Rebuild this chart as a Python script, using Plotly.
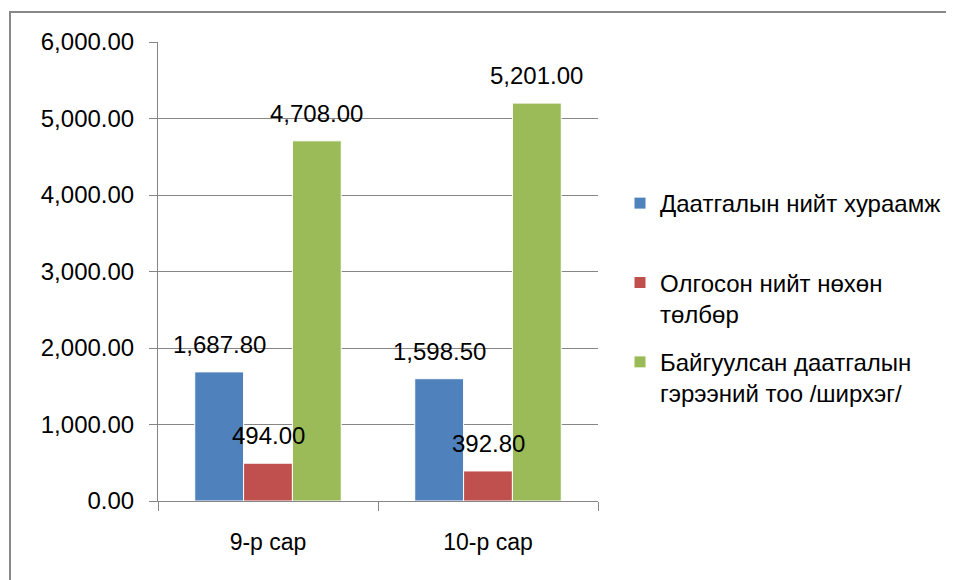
import plotly.graph_objects as go

categories = ["9-р сар", "10-р сар"]
series_names = ["Даатгалын нийт хураамж<br> ", "Олгосон нийт нөхөн<br>төлбөр", "Байгуулсан даатгалын<br>гэрээний тоо /ширхэг/"]
series_values = [
    [1687.80, 1598.50],
    [494.00, 392.80],
    [4708.00, 5201.00],
]
colors = ["#4F81BD", "#C0504D", "#9BBB59"]

FONT = "Liberation Sans"
OFF = 8  # page body margin
L, T = 158 - OFF, 42 - OFF
pw, ph = 440, 459
W, H = 954 - OFF, 580 - OFF
R, B = W - L - pw, H - T - ph

fig = go.Figure()
for i, (name, vals, c) in enumerate(zip(series_names, series_values, colors)):
    fig.add_trace(go.Bar(
        x=categories, y=vals, name=name, marker=dict(color=c, line=dict(color="white", width=1)),
        legendgroup=f"g{i}",
    ))

bargap = 0.334
bw = (1 - bargap) / 3
for j, vals in enumerate(series_values):
    for i, v in enumerate(vals):
        fig.add_annotation(
            x=i + (j - 1) * bw, y=v, text=f"{v:,.2f}", showarrow=False,
            yanchor="bottom", yshift=12, font=dict(family=FONT, size=24, color="black"),
        )

fig.add_shape(type="rect", xref="paper", yref="paper",
              x0=(10 - 158) / pw, x1=2, y0=-1, y1=1 + (42 - 12) / ph,
              line=dict(color="#888888", width=2), layer="below")

fig.update_layout(
    width=W, height=H, margin=dict(l=L, r=R, t=T, b=B, autoexpand=False),
    paper_bgcolor="white", plot_bgcolor="white",
    barmode="group", bargap=bargap, bargroupgap=0,
    font=dict(family=FONT, size=23, color="black"),
    showlegend=True,
    legend=dict(x=(620 - 158) / pw, y=(501 - 181) / ph, xanchor="left", yanchor="top",
                font=dict(family=FONT, size=24), tracegroupgap=14, valign="top",
                itemwidth=30, bgcolor="rgba(0,0,0,0)"),
    xaxis=dict(type="category", showline=True, linecolor="#868686", linewidth=1,
               ticks="outside", tickson="boundaries", ticklen=9, tickcolor="#868686",
               showgrid=False, ticklabelstandoff=20, tickfont=dict(size=23)),
    yaxis=dict(range=[0, 6000], dtick=1000, tickformat=",.2f", showline=True,
               linecolor="#868686", linewidth=1, ticks="outside", ticklen=8,
               tickcolor="#868686", gridcolor="#868686", gridwidth=1,
               ticklabelstandoff=10, tickfont=dict(size=24), zeroline=False),
)

fig.write_html("out.html")
